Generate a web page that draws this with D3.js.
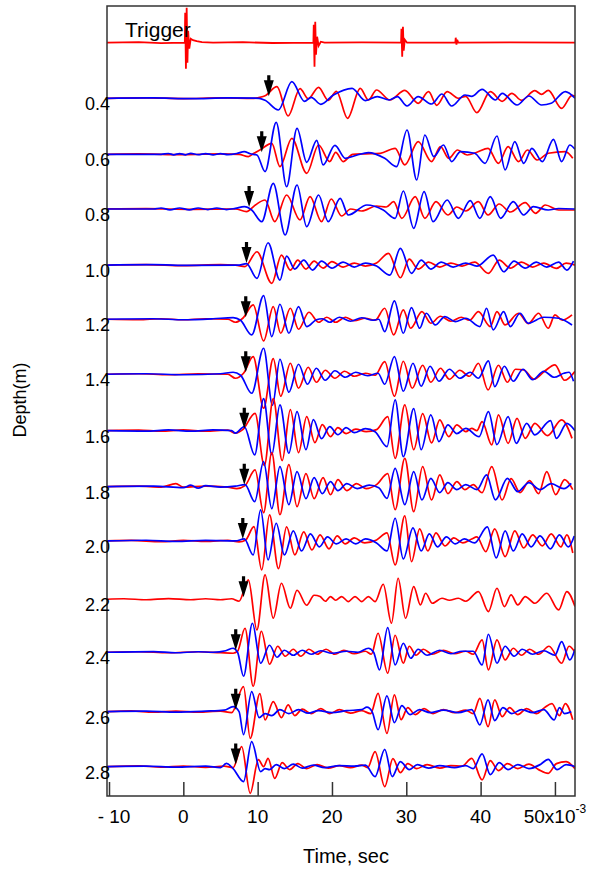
<!DOCTYPE html>
<html>
<head>
<meta charset="utf-8">
<script src="https://cdn.jsdelivr.net/npm/d3@7.9.0/dist/d3.min.js"></script>
<style>
  body { margin: 0; background: #fff; }
  text { font-family: Arial, "Liberation Sans", sans-serif; fill: #000; }
</style>
</head>
<body>
<div id="chart"></div>
<script>
// time in ms (x10^-3 s), amplitude in arbitrary units
const depths = [0.4, 0.6, 0.8, 1.0, 1.2, 1.4, 1.6, 1.8, 2.0, 2.2, 2.4, 2.6, 2.8];
const arrivals = [11.5, 10.55, 8.85, 8.5, 8.4, 8.4, 8.2, 8.2, 8.0, 8.1, 7.05, 7.05, 7.05];
const offsets = [0, -0.4, 0.5, 0, 1.4, 2, 1.2, 0.8, 2.1, -0.6, 2, -1.8, -1.2];
const xTicks = [-10, 0, 10, 20, 30, 40, 50];

const trigger = [[-10.3,0],[-6,0.6],[-3,-0.4],[0.2,0],[0.25,30],[0.35,-26],[0.45,35],[0.55,-20],[0.65,12],[0.8,-6],[1.0,4],[1.3,2.5],[1.8,1.5],[2.5,0.5],[4,0],[8,0.5],[12,-0.3],[17.5,0],[17.55,18],[17.65,-24],[17.75,21],[17.85,-12],[18.0,6],[18.2,-3],[18.5,1],[19,0],[24,0.4],[29.3,0],[29.35,14],[29.45,-14],[29.55,16],[29.65,-8],[29.8,3],[30.1,0],[36.6,0],[36.65,5],[36.75,-2],[36.85,3],[37,0],[44,0.4],[52.7,0]];

const red04 = [[-10.3,0],[-5,0.5],[0,-0.3],[5,0.4],[9.5,0],[10.6,1.5],[11.0,2.5],[12.6,11.6],[14.1,-17.7],[15.7,9.7],[16.8,-0.5],[18.2,11],[19.5,-2],[20.6,7],[22.1,-20],[23.8,10],[24.9,-1.7],[26.0,8.3],[27.8,-1.7],[29.8,8],[31.6,-5],[33.0,6.6],[34.1,-7],[35.5,6.6],[37.0,0],[38.0,2],[39.5,-14.4],[41.3,6.6],[42.9,-3],[44.2,5],[45.5,-2],[47.3,7.6],[48.2,4],[49.1,8],[50.9,-10],[52.3,3],[52.7,2]];
const blue04 = [[-10.3,0],[-4,0.4],[1,-0.4],[6,0.4],[10.2,0],[11.0,-2],[12.8,-11.7],[14.6,16.6],[16.3,-3],[17.2,1],[18.5,-6],[20.2,3.3],[22.7,10],[24.5,-2.3],[26.1,1.7],[27.7,-1.7],[28.8,1.7],[30.1,-7.7],[31.6,1.7],[33.4,-5.7],[34.8,4.3],[36.1,-7.7],[37.9,3.3],[38.8,2],[40.2,9],[42.0,-1.7],[42.9,5],[44.9,-6.7],[46.5,2.3],[48.2,-6.7],[49.5,-5],[51.4,6.7],[52.7,0]];

const red06 = [[-10.3,0],[-6,0.4],[0,-0.4],[5,0.5],[7.5,0],[8.75,-2.3],[9.5,1],[10.3,4.3],[11.9,11],[13.0,-12.3],[14.6,16],[16.6,-19],[18.2,9.3],[19.7,-7.3],[20.5,2],[21.5,-7.3],[22.8,0],[24.5,0.5],[26.5,1],[28.5,6],[29.8,-10.6],[31.6,12.7],[33.4,-7.3],[34.6,7.6],[35.7,-4],[36.9,4.3],[38.2,-0.7],[39.5,2],[41.0,6],[42.4,-9],[43.7,7.6],[45.1,-7.3],[46.3,4.3],[47.6,-5.7],[49.1,1],[51.4,2.7],[52.4,-4]];
const blue06 = [[-10.3,0],[-3,0],[-2,0.8],[-1.3,-0.5],[-0.5,0.7],[0.3,-0.5],[1,1],[2,-0.4],[3,0.7],[4,-0.5],[5,0.6],[6,-0.4],[7.2,0.8],[8.2,2.7],[9.0,0.5],[9.9,-0.7],[11.0,-17.3],[12.5,32],[13.9,-32.4],[15.3,26],[16.6,-8],[17.95,14],[18.8,-10.6],[20.4,9],[21.8,-4],[23.3,-1],[24.9,1.7],[27.1,-4],[28.7,-12.3],[30.1,24.3],[31.4,-25.7],[32.5,19.3],[33.7,-2.3],[35.0,9.3],[36.1,-7.3],[37.3,2.7],[39.2,1],[40.6,-9],[42.2,18.3],[43.3,-15.7],[44.6,12.7],[45.8,-9],[46.9,6],[48.3,-7.3],[49.8,15],[50.9,-7.3],[52.0,9.3],[52.7,5]];

const red08 = [[-10.3,0],[-5,0.4],[1,-0.4],[7,0],[8.5,-2.6],[9.7,4],[11.0,9],[12.3,-12.7],[13.9,14],[15.7,-11],[17.05,12.3],[18.6,-12.7],[19.9,10],[21.3,-7],[22.5,0],[24,-2],[26,3],[27.3,2],[28.3,7.3],[29.4,-9.3],[31.2,12.3],[32.5,-9.3],[34.0,7.3],[35.6,-6],[36.8,2],[38.0,-2],[39.7,7.3],[41.0,-6],[42.5,5],[44.0,-3],[46.0,6.3],[47.4,-4.3],[48.7,4],[50.5,-1],[52.7,-1]];
const blue08 = [[-10.3,0],[-4,0],[-3,1],[-1.8,-0.8],[-0.5,1],[0.8,-0.8],[2,1],[3.3,-0.6],[4.5,1],[5.8,-0.6],[7,0.6],[8.2,2.3],[9.2,-1],[10.55,-12.7],[12.1,25.7],[13.7,-26],[15.3,24],[16.6,-17.7],[18.2,14],[19.5,-12.7],[21.1,10.7],[22.2,-6],[24.7,4],[26.9,-1],[28.5,-9.3],[29.6,18],[31.0,-19.3],[32.4,17.3],[33.6,-12.7],[35.5,9],[37.0,-9.3],[38.6,8.3],[39.9,-9.3],[41.3,12.3],[42.7,-9.3],[44.4,7.3],[45.8,-6],[47.1,2.3],[49.1,-1],[50.5,0.5],[52.7,0]];

const red10 = [[-10.3,0],[-5,0.5],[0,-0.5],[5,0.4],[7,0],[8.3,-1.5],[9.9,13.3],[11.9,-18.3],[13.2,10],[14.4,-5],[15.4,5],[16.5,-4],[17.6,4],[18.8,-3],[20.0,3.5],[21.5,-2],[23,2],[24.5,-1],[26.0,2],[27.6,11.7],[29.2,-12.7],[30.4,6],[31.6,-4],[33.0,3],[34.5,-2],[36,2],[37.5,-1],[39.2,3],[41.05,-8.3],[42.5,5],[44,-3],[45.5,3],[47,-2],[48.5,2],[50.2,-3.3],[51.5,2],[52.7,0]];
const blue10 = [[-10.3,0],[-4,0.4],[1,-0.4],[7.5,0],[8.5,1.5],[9.9,-13.3],[11.4,22.3],[13.0,-15],[13.9,9],[15.0,-4],[16.2,5],[17.4,-5],[18.6,4],[20.0,-3],[21.5,3],[23,-2],[24.5,2],[26,-1],[27.8,-10],[29.2,16.7],[30.7,-8.3],[32.0,5],[33.3,-4],[34.7,3],[36.3,-2],[38,2],[39.5,-1],[41.7,10],[43.1,-6.7],[44.5,4],[46,-3],[47.5,3],[48.9,-2],[50.5,3],[51.6,-5],[52.5,4]];

const red12 = [[-10.3,0],[-6,-0.5],[-3,0.5],[0,-0.5],[3,0.5],[6,0],[7.0,-3],[8.0,1],[9.4,14.3],[10.8,-21.7],[12.1,12.7],[13.1,-14],[14.4,11],[15.5,-10],[16.9,7],[18.2,-3],[19.3,2],[20.5,-3],[21.8,2],[23,-1.5],[24.5,1],[25.8,-1],[27.1,11],[28.3,-15.7],[29.6,9.3],[30.6,-9],[32.1,7.6],[33.3,-4],[34.6,3],[36,-2],[37.4,2],[38.5,-1],[39.7,7.6],[41.3,-7.3],[42.2,7.6],[43.3,-5.7],[45.1,6],[46.4,-4.3],[47.8,6],[49.1,-9],[50.0,4.3],[51.0,-1],[52.3,4.3]];
const blue12 = [[-10.3,0],[-4,0.5],[0,-0.5],[4,0.5],[6.7,1.7],[7.7,-1],[9.2,-15.7],[10.8,23.7],[11.9,-17.3],[13.0,15],[14.2,-14],[15.5,12.7],[16.6,-7.3],[17.9,-0.5],[18.7,0.5],[19.7,-3],[21,2],[22.5,-2],[24,1.5],[25.5,-1],[26.3,0],[27.1,-12.3],[28.4,18.3],[29.6,-14],[30.7,11.7],[31.8,-9],[32.7,6],[33.9,-5.7],[35.2,2.7],[36.6,-2.3],[38.0,1],[39.9,-7.3],[40.8,11],[41.7,-10.6],[43.1,7.6],[44.0,-7.3],[45.3,6],[46.4,-4],[48.5,2],[50.5,1],[52.3,-5.7]];

const red14 = [[-10.3,0],[-6,0.5],[-2,-0.5],[2,0.5],[6,0],[7.0,-4],[8.1,1],[9.4,17.7],[10.8,-34],[12.1,15.7],[13.1,-22],[14.4,11],[15.5,-14],[16.8,7],[17.9,-8],[19.1,4],[20.4,-4],[21.7,3],[23,-2],[24.5,1],[25.8,-1],[27.1,12.7],[28.4,-22],[29.6,13],[30.8,-14],[32.2,9],[33.3,-8],[34.6,6],[35.8,-5],[37.2,4],[38.5,-2],[39.7,11],[41.0,-15.7],[42.4,9],[43.6,-8],[44.7,5],[45.8,4.3],[47.2,-5],[48.6,3],[50.0,9.3],[51.3,-6],[52.7,3]];
const blue14 = [[-10.3,0],[-5,0.5],[0,-0.5],[5,0.5],[6.7,2],[7.7,-1],[9.2,-19],[10.8,26],[12.0,-31],[13.0,15],[14.2,-18],[15.5,10],[16.7,-10],[17.9,6],[19.1,-6],[20.4,3.5],[21.8,-3],[23.2,2],[24.8,-1.5],[26.2,1],[27.1,-10],[28.4,17.7],[29.6,-17],[30.9,11],[32.0,-12],[33.2,8],[34.4,-7],[35.8,5],[37.2,-4],[38.6,2],[39.7,-4],[41.05,13.3],[41.9,-12.3],[43.2,8],[44.4,-7],[45.7,5],[47.0,-5.5],[48.5,3],[49.9,-3],[51.2,1],[51.9,2],[52.5,-7]];

const red16 = [[-10.3,0],[-6,0.5],[-3,-0.5],[0,0.7],[3,-0.5],[6,0.5],[7.0,-2.5],[8.0,1],[9.65,17.3],[10.9,-35],[12.1,32],[13.3,-30],[14.4,21],[15.5,-22],[16.6,14],[17.7,-12],[18.7,6],[19.8,-6],[20.8,3],[21.9,-3],[23.2,1.5],[24.6,-1],[26.0,1],[27.5,14],[28.5,-27.7],[29.8,25.7],[31.0,-19],[32.2,17],[33.4,-12.3],[34.5,10.7],[35.7,-6],[36.8,5.7],[38.0,-1],[38.8,2.3],[39.5,0],[40.2,9],[41.5,-14.3],[42.4,15.7],[43.7,-12.7],[44.9,12.3],[46.0,-7.7],[47.3,7.3],[49.0,-5],[50.9,10.7],[52.3,-7.7]];
const blue16 = [[-10.3,0],[-5,-0.5],[-2,0.7],[1,-0.5],[4,0.7],[6.5,0],[7.0,-2.5],[8.2,4],[9.6,-24.3],[10.8,32],[11.9,-24],[13.0,25.7],[14.2,-22.6],[15.3,19],[16.5,-19],[17.5,11],[18.6,-8],[19.7,4],[20.8,-4],[21.9,3],[23,-2],[24.5,2],[25.8,-1],[27.4,-16],[28.5,30.7],[29.6,-26],[31.0,22],[32.0,-19],[33.3,15.7],[34.4,-11],[35.6,5.7],[36.8,-3],[38.0,2.3],[39.8,-6],[41.05,19],[42.2,-14],[43.7,14],[44.8,-12.7],[46.2,7.3],[47.3,-4.3],[49.4,10],[50.2,-7.7],[51.6,7.3],[52.7,0]];

const red18 = [[-10.3,0],[-6,0.5],[-3,-0.4],[-1,3],[0,-0.5],[3,0.5],[6,-0.5],[7.2,-2],[8.3,1],[9.65,16.7],[10.8,-26],[11.9,34],[13.0,-28],[14.2,22],[15.3,-20],[16.5,13],[17.6,-12],[18.8,9],[19.8,-8],[20.8,7],[22.0,-4],[23.3,3],[24.6,-2],[26.0,2],[27.5,13],[28.5,-23],[29.8,28.3],[31.0,-25],[32.2,20],[33.4,-13.3],[34.5,11.7],[35.6,-7],[36.8,5],[37.9,-3],[39.0,2],[40.2,-6],[41.5,20],[42.9,-13.3],[44.1,8],[45.3,-6],[46.6,6],[47.8,-7],[48.9,15],[50.1,-8],[51.3,7],[52.4,-3]];
const blue18 = [[-10.3,0],[-4,0.5],[0,-1],[1,1.5],[2,-1.5],[3,1],[5,-0.5],[7,0.5],[8.3,2],[9.6,-15],[10.8,25],[11.9,-22],[13.0,20],[14.2,-18],[15.3,15],[16.5,-12],[17.6,9],[18.7,-7],[19.8,5],[20.8,-4],[22,3],[23.4,-2],[25,1.5],[26.3,-1],[27.4,-11.7],[28.5,18.3],[29.8,-18],[31.0,15],[32.1,-13.3],[33.3,8.3],[34.5,-6],[35.6,4],[36.8,-3],[38,2],[39.5,-3],[40.8,11.7],[42.0,-13.3],[43.6,8.3],[45,-5],[46.5,4],[48,-3],[49.5,3],[51.2,-2],[52.2,3.3]];

const red20 = [[-10.3,0],[-7,0.5],[-3,-0.7],[0,0.5],[3,-0.5],[6,0.5],[7.5,-1],[8.4,1],[9.5,14.3],[10.55,-29],[11.6,26],[12.8,-27.7],[13.9,14],[15.0,-14],[16.2,9],[17.3,-9],[18.4,6],[19.6,-8],[20.7,5],[21.8,-3],[23,3],[24.4,-2],[26,1],[27.4,8],[28.5,-24],[29.8,25],[30.7,-20.7],[31.8,12],[32.9,-10],[34.0,8],[35.2,-5],[36.4,3],[37.6,-2],[38.8,2],[39.5,4],[40.7,-10.7],[41.9,12],[43.3,-15.7],[44.6,10],[45.8,-7],[47.0,6],[48.3,-5],[49.5,7],[50.8,-6],[51.6,6],[52.4,-12]];
const blue20 = [[-10.3,0],[-5,0.7],[-1,-0.5],[3,0.5],[7,0],[8.2,2],[9.4,-14],[10.4,31],[11.4,-19],[12.5,17.7],[13.6,-14],[14.8,10],[15.9,-10],[17.1,7],[18.3,-6],[19.4,4],[20.6,-3],[21.9,2],[23.2,-3],[24.5,2],[26.0,-2],[27.4,-10],[28.5,22.7],[29.6,-18],[30.9,13],[32.0,-10],[33.1,7],[34.2,-6],[35.4,4],[36.6,-3],[37.8,2],[39.2,-2],[40.9,14],[42.1,-17],[43.3,10],[44.4,-10],[45.6,7],[46.8,-6],[48.0,5],[49.4,-8],[50.6,6],[51.8,-6],[52.6,5]];

const red22 = [[-10.3,0],[-8,0.5],[-5,-0.5],[-2,0.7],[1,-0.5],[3,0.5],[5,-0.5],[6.5,0.5],[7.5,-2],[8.75,19.3],[9.9,-30.7],[11.0,24.3],[12.1,-19],[13.2,16],[14.4,-9],[15.3,9],[16.6,-6],[17.6,4],[18.4,2.7],[19.1,-2],[19.8,2.7],[20.5,-1],[21.3,2.7],[22.2,-2.3],[23.1,2.7],[24.0,-2.3],[24.9,2.7],[25.8,-2.3],[26.9,15],[28.0,-24],[28.9,21],[29.9,-19],[31.0,12.7],[31.9,-5.7],[32.6,6],[33.5,-4],[34.8,1],[35.8,-1],[37.0,1],[38.0,-2],[39.7,7.7],[41.05,-12.3],[42.2,11],[43.2,-7.3],[44.1,4.3],[45.0,-5.7],[46.0,2.7],[47.3,-4],[48.9,6],[50.5,-10.7],[51.6,7.7],[52.7,-7.3]];

const red24 = [[-10.3,0],[-6,0.5],[-2,-0.5],[2,0.5],[5,-0.5],[6.7,-1],[7.3,1],[8.3,24],[9.4,-34],[10.5,21],[11.6,-12],[12.7,6],[13.7,-4],[14.8,3],[15.8,-4],[16.9,3],[18,-2],[19.2,3],[20.4,-2],[21.6,2],[23,-1.5],[24.5,1],[25.3,-2],[26.2,19],[27.5,-21],[28.5,17],[29.6,-11],[30.4,6],[31.3,-3],[32.3,3],[33.5,-2],[35,2],[36.5,-1.5],[38,1],[39,-2],[40.2,12.3],[41.05,-17.7],[42.2,12.3],[43.3,-7.7],[44.4,4],[45.5,-3],[46.6,3],[47.8,-2],[49.2,6],[50.9,-11],[51.9,6],[52.7,0]];
const blue24 = [[-10.3,0],[-4,0.7],[-1,-0.5],[2,0.5],[4,0],[5.7,1.5],[6.7,4],[7.3,0],[8.1,-24],[9.3,29],[10.4,-11],[11.6,7],[12.6,-5],[13.6,2],[14.8,-3],[16,2],[17.2,-2],[18.5,1.5],[20,-1],[22,1],[23.5,0],[24.9,4],[25.6,0],[26.4,-17.7],[27.5,24.7],[28.5,-12.7],[29.6,9],[30.6,-6],[31.6,3],[32.8,-3],[34.5,2],[36,-1.5],[37.5,1],[39,1],[40.2,-12.7],[41.05,18],[42.2,-11],[43.3,6],[44.5,-4],[45.6,3],[47,-2],[48.5,1.5],[50,-3],[50.9,10.7],[52.0,-7.7],[52.7,3]];

const red26 = [[-10.3,0],[-7,0.7],[-4,-0.5],[-1,0.5],[2,-0.5],[5,0.5],[6.5,-1],[8.1,25],[9.0,-26.7],[10.3,18],[11.0,-8.3],[12.1,10],[13.2,-6],[14.1,6.7],[15.0,-4],[16,2.5],[17.2,-2],[18.5,3],[19.7,-2],[21,2],[22.5,-1.5],[24,1],[25.2,-2],[26.2,18.3],[27.4,-21.7],[28.4,16.7],[29.3,-8],[30.2,4],[31.2,-3],[32.4,3],[33.6,-2],[35,2],[36.5,-1],[38,1.5],[39.0,-2],[39.9,13.3],[41.0,-15],[41.9,11.7],[42.9,-5],[43.9,4],[45,-3],[46.2,3],[47.5,-2],[48.6,4],[49.6,8],[50.6,-4],[51.4,8],[52.4,-8]];
const blue26 = [[-10.3,0],[-5,0.5],[-1,-0.5],[3,0.5],[5.5,1.5],[6.7,5],[7.5,0],[8.1,-23],[9.2,20],[10.2,-6],[11.0,-2],[11.9,-4],[13.0,2],[14.2,-2],[15.5,2],[16.8,-1.5],[18.2,1],[20,-1],[22,1],[24.0,2],[24.7,4.5],[25.4,0],[26.2,-18],[27.4,15.7],[28.4,-11],[29.4,6],[30.5,-3],[31.8,2],[33.2,-1],[35,1.5],[37,-1],[38.8,2],[39.9,-13.3],[41.0,11.7],[41.9,-9],[43.0,4],[44.2,-2],[45.5,2],[47,-1],[48.5,2],[49.9,-8.3],[50.6,4],[51.3,-2],[52.2,0]];

const red28 = [[-10.3,0],[-6,0.7],[-3,-0.5],[0,0.5],[3,-0.7],[5.5,0.5],[6.7,-1],[7.85,20],[9.0,-26.7],[10.1,7],[10.8,0],[11.4,8.3],[12.3,-11.7],[13.3,4],[14.3,-3],[15.4,3],[16.6,-2],[18,2],[19.5,-1.5],[21,1],[22.5,-1],[24,1.5],[24.8,-1],[25.8,15],[27.1,-20],[28.2,8],[29.2,-6],[30.2,3],[31.4,-2],[32.8,2],[34.5,-1.5],[36,1],[37.5,0.5],[38.8,8.3],[40.2,-13.3],[41.3,6],[42.4,-4],[43.6,3],[45,-2],[46.5,2.5],[47.8,-3],[49.1,-6.7],[50.2,3],[51.5,5],[52.7,-2]];
const blue28 = [[-10.3,0],[-5,0.5],[-1,-0.5],[3,0.5],[5.0,-1],[5.8,3.3],[6.7,-2],[8.1,-15],[9.2,25],[10.4,-5],[11.0,-2],[11.6,-3],[12.5,2],[13.6,-2],[14.8,2.5],[16.0,-1.5],[17.5,1.5],[19,-1],[21,1],[23,0.5],[24.5,1.5],[25.8,-10],[27.1,17.3],[28.1,-10],[29.2,5],[30.4,-3],[31.5,2],[33,-1.5],[34.5,1],[36.5,-1],[38,1],[39.0,-2],[40.2,12.7],[41.3,-8],[42.5,4],[43.7,-3],[45,2],[46.5,-2],[48.0,2],[49.1,7.3],[50.3,-3],[51.5,2],[52.7,0]];

const redWaves = [red04, red06, red08, red10, red12, red14, red16, red18, red20, red22, red24, red26, red28];
const blueWaves = [blue04, blue06, blue08, blue10, blue12, blue14, blue16, blue18, blue20, null, blue24, blue26, blue28];

renderChart();

function renderChart() {
  const width = 592;
  const height = 870;
  const frame = { left: 107, right: 575, top: 6, bottom: 796 };

  const svg = d3.select('#chart')
    .append('svg')
    .attr('width', width)
    .attr('height', height);

  const xScale = d3.scaleLinear()
    .domain([-10.27, 52.7])
    .range([frame.left, frame.right]);

  const yScale = d3.scaleLinear()
    .domain([0.068, 2.91])
    .range([frame.top, frame.bottom]);

  // 1 amplitude unit = 1 px, upwards
  const ampScale = d3.scaleLinear().domain([0, 1]).range([0, -1]);

  svg.append('clipPath')
    .attr('id', 'plot-clip')
    .append('rect')
    .attr('x', frame.left)
    .attr('y', frame.top)
    .attr('width', frame.right - frame.left)
    .attr('height', frame.bottom - frame.top);

  const plot = svg.append('g').attr('clip-path', 'url(#plot-clip)');

  // TRIGGER
  const trigY = yScale(0.2);
  const trigLine = d3.line()
    .x((d) => xScale(d[0]))
    .y((d) => trigY + ampScale(d[1]));

  plot.append('path')
    .datum(trigger)
    .attr('d', trigLine)
    .attr('fill', 'none')
    .attr('stroke', '#ff0000')
    .attr('stroke-width', 1.8);

  svg.append('text')
    .attr('x', 125)
    .attr('y', 37)
    .attr('font-size', 21)
    .text('Trigger');

  // WAVEFORMS
  depths.forEach((depth, i) => {
    const base = yScale(depth);
    const off = offsets[i];

    const line = d3.line()
      .x((d) => xScale(d[0]))
      .y((d) => base + ampScale(d[1] + off))
      .curve(d3.curveMonotoneX);

    plot.append('path')
      .datum(redWaves[i])
      .attr('d', line)
      .attr('fill', 'none')
      .attr('stroke', '#ff0000')
      .attr('stroke-width', 1.7);

    if (blueWaves[i]) {
      plot.append('path')
        .datum(blueWaves[i])
        .attr('d', line)
        .attr('fill', 'none')
        .attr('stroke', '#0000ff')
        .attr('stroke-width', 1.7);
    }
  });

  // ARRIVAL ARROWS
  const arrows = svg.append('g').attr('class', 'arrows');

  depths.forEach((depth, i) => {
    const ax = xScale(arrivals[i]);
    const tip = yScale(depth) + ampScale(offsets[i]) - 2;
    const top = tip - 21;

    arrows.append('path')
      .attr('d', `M${ax - 1.6},${top} L${ax + 1.6},${top} L${ax + 1.6},${top + 5} L${ax + 5},${top + 5} L${ax},${tip} L${ax - 5},${top + 5} L${ax - 1.6},${top + 5} Z`)
      .attr('fill', '#000');
  });

  // FRAME
  svg.append('rect')
    .attr('x', frame.left)
    .attr('y', frame.top)
    .attr('width', frame.right - frame.left)
    .attr('height', frame.bottom - frame.top)
    .attr('fill', 'none')
    .attr('stroke', '#333')
    .attr('stroke-width', 1.5);

  // X AXIS (ticks inward)
  const xAxis = d3.axisBottom(xScale)
    .tickValues(xTicks)
    .tickSize(-14)
    .tickFormat('');

  const gx = svg.append('g')
    .attr('transform', `translate(0,${frame.bottom})`)
    .call(xAxis);

  gx.select('.domain').remove();
  gx.selectAll('.tick line')
    .attr('stroke', '#333')
    .attr('stroke-width', 1.5);

  const labels = svg.append('g').attr('font-size', 19);

  xTicks.forEach((t) => {
    const label = labels.append('text')
      .attr('x', xScale(t) + (t < 0 ? 5 : 0))
      .attr('y', 823)
      .attr('text-anchor', 'middle');

    if (t === 50) {
      label.append('tspan').text('50x10');
      label.append('tspan')
        .attr('dy', -10)
        .attr('font-size', 12)
        .text('-3');
    } else if (t < 0) {
      label.text('- ' + Math.abs(t));
    } else {
      label.text(t);
    }
  });

  // DEPTH LABELS
  svg.append('g')
    .selectAll('text')
    .data(depths)
    .join('text')
    .attr('x', 110)
    .attr('y', (d, i) => yScale(d) + ampScale(offsets[i]) + 12)
    .attr('text-anchor', 'end')
    .attr('font-size', 18)
    .text((d) => d.toFixed(1));

  // AXIS TITLES
  svg.append('text')
    .attr('x', 346)
    .attr('y', 863)
    .attr('text-anchor', 'middle')
    .attr('font-size', 20)
    .text('Time, sec');

  svg.append('text')
    .attr('transform', 'translate(26,400) rotate(-90)')
    .attr('text-anchor', 'middle')
    .attr('font-size', 18)
    .text('Depth(m)');
}
</script>
</body>
</html>
